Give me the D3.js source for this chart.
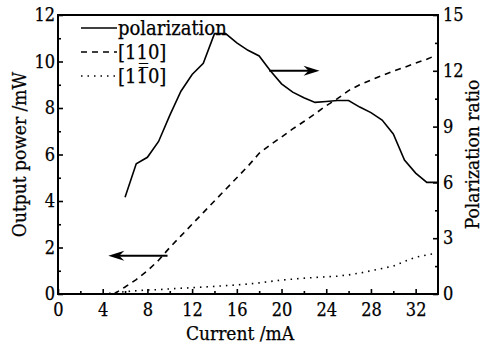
<!DOCTYPE html>
<html>
<head>
<meta charset="utf-8">
<script src="https://cdn.jsdelivr.net/npm/d3@7"></script>
<style>
  body { margin: 0; background: #fff; }
  text { font-family: 'DejaVu Serif Condensed', 'DejaVu Serif', serif; fill: #000; stroke: #000; stroke-width: 0.25; }
</style>
</head>
<body>
<div id="chart"></div>
<script>
// polarization ratio (right axis)
const polCurrent = [6, 7, 8, 9, 10, 11, 12, 13, 14, 15, 16, 17, 18, 19, 20, 21, 22, 23, 24, 25, 26, 27, 28, 29, 30, 31, 32, 33, 34];
const polRatio = [5.2, 7.0, 7.35, 8.2, 9.6, 10.9, 11.8, 12.4, 14.0, 14.0, 13.5, 13.1, 12.8, 12.0, 11.3, 10.85, 10.55, 10.3, 10.35, 10.4, 10.4, 10.05, 9.75, 9.35, 8.6, 7.2, 6.5, 6.0, 6.0];

// output power (left axis)
const powCurrent = [5, 6, 7, 8, 9, 10, 11, 12, 13, 14, 15, 16, 17, 18, 19, 20, 21, 22, 23, 24, 25, 26, 27, 28, 29, 30, 31, 32, 33, 33.5];
const power110 = [0, 0.3, 0.62, 1.0, 1.45, 2.0, 2.5, 3.0, 3.5, 4.0, 4.5, 5.0, 5.5, 6.05, 6.42, 6.75, 7.1, 7.42, 7.75, 8.1, 8.4, 8.75, 9.0, 9.2, 9.4, 9.58, 9.75, 9.93, 10.1, 10.2];
const dotCurrent = [4, 5, 6, 7, 8, 9, 10, 11, 12, 13, 14, 15, 16, 17, 18, 19, 20, 21, 22, 23, 24, 25, 26, 27, 28, 29, 30, 31, 32, 33, 33.5];
const power1m10 = [0, 0.05, 0.1, 0.14, 0.17, 0.19, 0.22, 0.25, 0.27, 0.3, 0.33, 0.36, 0.39, 0.43, 0.48, 0.54, 0.6, 0.64, 0.68, 0.71, 0.74, 0.77, 0.82, 0.9, 1.0, 1.1, 1.2, 1.4, 1.58, 1.68, 1.72];

const xTicks = [0, 4, 8, 12, 16, 20, 24, 28, 32];
const yLeftTicks = [0, 2, 4, 6, 8, 10, 12];
const yRightTicks = [0, 3, 6, 9, 12, 15];

// arrows: [fromCurrent, toCurrent, value]
const leftArrow = [9.8, 4.5, 1.64];
const rightArrow = [18.9, 23.4, 12.0];

const legendLabels = ['polarization', '[11\u03320]', '[11\u03050]'];

const margin = { top: 15, right: 45, bottom: 52, left: 58 };
const W = 483, H = 346;
const width = W - margin.left - margin.right;
const height = H - margin.top - margin.bottom;

const svg = d3.select('#chart')
  .append('svg')
  .attr('width', W)
  .attr('height', H)
  .append('g')
  .attr('transform', `translate(${margin.left},${margin.top})`);

const x = d3.scaleLinear().domain([0, 34]).range([0, width]);
const yL = d3.scaleLinear().domain([0, 12]).range([height, 0]);
const yR = d3.scaleLinear().domain([0, 15]).range([height, 0]);

const fontSize = 18;

// minor ticks
svg.append('g')
  .attr('transform', `translate(0,${height})`)
  .call(d3.axisBottom(x).tickValues(d3.range(2, 34, 4)).tickSize(-3).tickFormat(''))
  .call(g => g.select('.domain').remove());
svg.append('g')
  .call(d3.axisLeft(yL).tickValues(d3.range(1, 12, 2)).tickSize(-3).tickFormat(''))
  .call(g => g.select('.domain').remove());
svg.append('g')
  .attr('transform', `translate(${width},0)`)
  .call(d3.axisRight(yR).tickValues(d3.range(1.5, 15, 3)).tickSize(-3).tickFormat(''))
  .call(g => g.select('.domain').remove());

// major ticks
const xAxis = svg.append('g')
  .attr('transform', `translate(0,${height})`)
  .call(d3.axisBottom(x).tickValues(xTicks).tickSize(-5).tickPadding(9));
const yAxisL = svg.append('g')
  .call(d3.axisLeft(yL).tickValues(yLeftTicks).tickSize(-5).tickPadding(3));
const yAxisR = svg.append('g')
  .attr('transform', `translate(${width},0)`)
  .call(d3.axisRight(yR).tickValues(yRightTicks).tickSize(-5).tickPadding(5));

[xAxis, yAxisL, yAxisR].forEach(g => {
  g.select('.domain').remove();
  g.selectAll('text').attr('font-size', fontSize).attr('font-family', null).attr('fill', null);
});
svg.selectAll('.tick line').attr('stroke', '#000').attr('stroke-width', 1.6);

// frame
svg.append('rect')
  .attr('width', width)
  .attr('height', height)
  .attr('fill', 'none')
  .attr('stroke', '#000')
  .attr('stroke-width', 2);

// lines
const polLine = d3.line().x((d, i) => x(polCurrent[i])).y(d => yR(d));
const powLine = d3.line().x((d, i) => x(powCurrent[i])).y(d => yL(d));
const dotLine = d3.line().x((d, i) => x(dotCurrent[i])).y(d => yL(d));

svg.append('path')
  .datum(polRatio)
  .attr('d', polLine)
  .attr('fill', 'none')
  .attr('stroke', '#000')
  .attr('stroke-width', 1.6);

svg.append('path')
  .datum(power110)
  .attr('d', powLine)
  .attr('fill', 'none')
  .attr('stroke', '#000')
  .attr('stroke-width', 1.6)
  .attr('stroke-dasharray', '6,5');

svg.append('path')
  .datum(power1m10)
  .attr('d', dotLine)
  .attr('fill', 'none')
  .attr('stroke', '#000')
  .attr('stroke-width', 1.6)
  .attr('stroke-dasharray', '1.5,5');

// arrows
function drawArrow(x0, x1, yy) {
  const dir = x1 > x0 ? 1 : -1;
  svg.append('line')
    .attr('x1', x0).attr('x2', x1 - dir * 10)
    .attr('y1', yy).attr('y2', yy)
    .attr('stroke', '#000')
    .attr('stroke-width', 2);
  svg.append('path')
    .attr('d', `M${x1},${yy} L${x1 - dir * 16},${yy - 5} L${x1 - dir * 11},${yy} L${x1 - dir * 16},${yy + 5} Z`)
    .attr('fill', '#000');
}
drawArrow(x(leftArrow[0]), x(leftArrow[1]), yL(leftArrow[2]));
drawArrow(x(rightArrow[0]), x(rightArrow[1]), yR(rightArrow[2]));

// legend
const legend = svg.append('g')
  .attr('transform', `translate(${81 - margin.left}, ${28 - margin.top})`);
const legendDash = [null, '6,5', '1.5,5'];
legendLabels.forEach((label, i) => {
  const row = legend.append('g').attr('transform', `translate(0,${i * 24})`);
  row.append('line')
    .attr('x1', 0).attr('x2', 36)
    .attr('stroke', '#000')
    .attr('stroke-width', 1.6)
    .attr('stroke-dasharray', legendDash[i]);
  row.append('text')
    .attr('x', 37)
    .attr('y', 7)
    .attr('font-size', 20)
    .text(label);
});

// axis titles
svg.append('text')
  .attr('x', width / 2 - 8)
  .attr('y', height + 46)
  .attr('text-anchor', 'middle')
  .attr('font-size', 19)
  .text('Current /mA');

svg.append('text')
  .attr('transform', `translate(${-32},${height / 2}) rotate(-90)`)
  .attr('text-anchor', 'middle')
  .attr('font-size', 19)
  .text('Output power /mW');

svg.append('text')
  .attr('transform', `translate(${width + 41},${height / 2}) rotate(-90)`)
  .attr('text-anchor', 'middle')
  .attr('font-size', 19)
  .text('Polarization ratio');
</script>
</body>
</html>
